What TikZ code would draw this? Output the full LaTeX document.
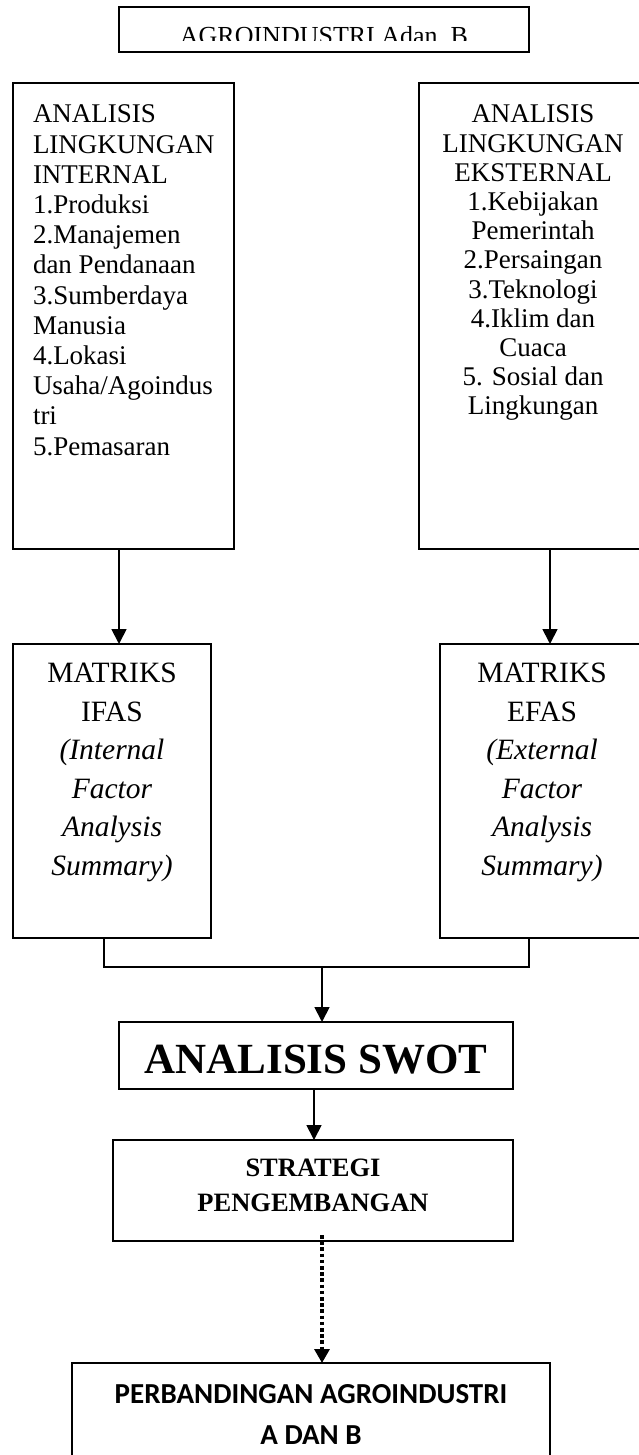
\documentclass[tikz,border=0pt]{standalone}
\usepackage{fontspec}
\setmainfont{Liberation Serif}
\newfontfamily\calibrifont{Carlito}
\usetikzlibrary{arrows.meta}
\begin{document}
\begin{tikzpicture}[x=1pt,y=-1pt,
  box/.style={draw, line width=1.3pt, rectangle, inner sep=0pt, outer sep=0pt, anchor=north west},
  arr/.style={line width=1.8pt, -{Triangle[width=15pt,length=15pt]}},
  conn/.style={line width=1.4pt},
  dotarr/.style={line width=3.2pt, dash pattern=on 3.6pt off 2.6pt, -{Triangle[width=15pt,length=14pt]}},
  txt/.style={inner sep=0pt, outer sep=0pt},
]
\useasboundingbox (0,0) rectangle (639,1455);
\clip (0,0) rectangle (639,1455);

% boxes
\node[box, minimum width=410pt, minimum height=45pt] (title) at (119,7) {};
\node[box, minimum width=221pt, minimum height=466pt] (int) at (13,83) {};
\node[box, minimum width=228pt, minimum height=466pt] (ext) at (419,83) {};
\node[box, minimum width=198pt, minimum height=294pt] (ifas) at (13,644) {};
\node[box, minimum width=204pt, minimum height=294pt] (efas) at (440,644) {};
\node[box, minimum width=394pt, minimum height=67pt] (swot) at (119,1022) {};
\node[box, minimum width=400pt, minimum height=101pt] (strat) at (113,1140) {};
\node[box, minimum width=478pt, minimum height=120pt] (cmp) at (72,1363) {};

% texts
\begin{scope}
\clip (119,7) rectangle (529,41);
\node[txt, anchor=base, font=\fontsize{26}{30}\selectfont] (titletext) at (324,45) {AGROINDUSTRI Adan~~B};
\end{scope}

\node[txt, anchor=north west, align=left, font=\fontsize{27}{30.2}\selectfont] (inttext) at (33,105)
  {ANALISIS\\LINGKUNGAN\\INTERNAL\\1.Produksi\\2.Manajemen\\dan Pendanaan\\3.Sumberdaya\\Manusia\\4.Lokasi\\Usaha/Agoindus\\tri\\5.Pemasaran};

\node[txt, anchor=north, align=center, font=\fontsize{27}{29.2}\selectfont] (exttext) at (533,105)
  {ANALISIS\\LINGKUNGAN\\EKSTERNAL\\1.Kebijakan\\Pemerintah\\2.Persaingan\\3.Teknologi\\4.Iklim dan\\Cuaca\\5. Sosial dan\\Lingkungan};

\node[txt, anchor=north, align=center, font=\fontsize{29.5}{38.6}\selectfont] (ifastext) at (112,663)
  {MATRIKS\\IFAS\\\textit{(Internal}\\\textit{Factor}\\\textit{Analysis}\\\textit{Summary)}};

\node[txt, anchor=north, align=center, font=\fontsize{29.5}{38.6}\selectfont] (efastext) at (542,663)
  {MATRIKS\\EFAS\\\textit{(External}\\\textit{Factor}\\\textit{Analysis}\\\textit{Summary)}};

\node[txt, anchor=base, font=\bfseries\fontsize{43}{50}\selectfont] (swottext) at (316,1073) {ANALISIS SWOT};

\node[txt, anchor=north, align=center, font=\bfseries\fontsize{26.5}{35}\selectfont] (strattext) at (313,1158.5)
  {STRATEGI\\PENGEMBANGAN};

\node[txt, anchor=north, align=center, font=\calibrifont\bfseries\fontsize{29}{41}\selectfont] (cmptext) at (311,1384)
  {PERBANDINGAN AGROINDUSTRI\\A DAN B};

% helper coordinates
\coordinate (a1) at (119,0);
\coordinate (a2) at (550,0);
\coordinate (c1) at (104,0);
\coordinate (c2) at (529,0);
\coordinate (jn) at (322,967);
\coordinate (a4) at (314,0);
\coordinate (d0) at (322,1235);

% connectors
\draw[arr] (int.south -| a1) -- (ifas.north -| a1);
\draw[arr] (ext.south -| a2) -- (efas.north -| a2);
\draw[conn] (ifas.south -| c1) |- (jn) -| (efas.south -| c2);
\draw[arr] (jn) -- (swot.north -| jn);
\draw[arr] (swot.south -| a4) -- (strat.north -| a4);
\draw[dotarr] (d0) -- (cmp.north -| d0);
\end{tikzpicture}
\end{document}
